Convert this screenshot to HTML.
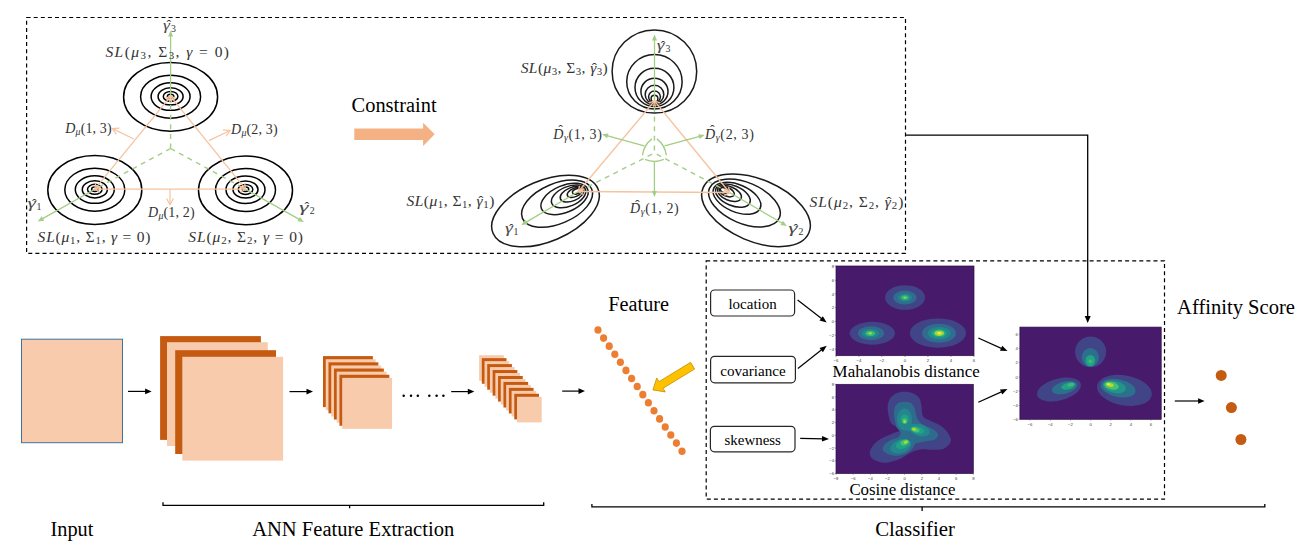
<!DOCTYPE html><html><head><meta charset="utf-8"><style>html,body{margin:0;padding:0;background:#fff;overflow:hidden;}svg{display:block;}</style></head><body><svg width="1312" height="547" viewBox="0 0 1312 547">
<rect width="1312" height="547" fill="#fff"/>
<rect x="26.6" y="17.5" width="878.9" height="235.9" fill="none" stroke="#000" stroke-width="1.2" stroke-dasharray="4 3.1"/>
<ellipse cx="170.60" cy="96.90" rx="47" ry="34.4" fill="none" stroke="#000" stroke-width="1.5"/>
<ellipse cx="170.60" cy="96.68" rx="30" ry="21.5" fill="none" stroke="#000" stroke-width="1.5"/>
<ellipse cx="170.60" cy="96.55" rx="19.5" ry="13.8" fill="none" stroke="#000" stroke-width="1.5"/>
<ellipse cx="170.60" cy="96.46" rx="12.5" ry="8.6" fill="none" stroke="#000" stroke-width="1.5"/>
<ellipse cx="170.60" cy="96.39" rx="7.3" ry="5.0" fill="none" stroke="#000" stroke-width="1.5"/>
<ellipse cx="170.60" cy="96.34" rx="3.2" ry="2.2" fill="none" stroke="#000" stroke-width="1.5"/>
<ellipse cx="94.80" cy="190.00" rx="47" ry="34.4" fill="none" stroke="#000" stroke-width="1.5"/>
<ellipse cx="94.80" cy="189.71" rx="30" ry="21.5" fill="none" stroke="#000" stroke-width="1.5"/>
<ellipse cx="94.80" cy="189.53" rx="19.5" ry="13.8" fill="none" stroke="#000" stroke-width="1.5"/>
<ellipse cx="94.80" cy="189.41" rx="12.5" ry="8.6" fill="none" stroke="#000" stroke-width="1.5"/>
<ellipse cx="94.80" cy="189.32" rx="7.3" ry="5.0" fill="none" stroke="#000" stroke-width="1.5"/>
<ellipse cx="94.80" cy="189.25" rx="3.2" ry="2.2" fill="none" stroke="#000" stroke-width="1.5"/>
<ellipse cx="245.50" cy="190.40" rx="47" ry="34.4" fill="none" stroke="#000" stroke-width="1.5"/>
<ellipse cx="245.50" cy="189.97" rx="30" ry="21.5" fill="none" stroke="#000" stroke-width="1.5"/>
<ellipse cx="245.50" cy="189.70" rx="19.5" ry="13.8" fill="none" stroke="#000" stroke-width="1.5"/>
<ellipse cx="245.50" cy="189.52" rx="12.5" ry="8.6" fill="none" stroke="#000" stroke-width="1.5"/>
<ellipse cx="245.50" cy="189.39" rx="7.3" ry="5.0" fill="none" stroke="#000" stroke-width="1.5"/>
<ellipse cx="245.50" cy="189.28" rx="3.2" ry="2.2" fill="none" stroke="#000" stroke-width="1.5"/>
<line x1="170.60" y1="148.50" x2="170.60" y2="96.30" stroke="#A2CE85" stroke-width="1.4" stroke-dasharray="5 4.6" />
<line x1="170.60" y1="148.50" x2="94.80" y2="189.20" stroke="#A2CE85" stroke-width="1.4" stroke-dasharray="5 4.6" />
<line x1="170.60" y1="148.50" x2="245.50" y2="189.20" stroke="#A2CE85" stroke-width="1.4" stroke-dasharray="5 4.6" />
<line x1="170.60" y1="96.30" x2="170.60" y2="34.70" stroke="#A2CE85" stroke-width="1.3" />
<polygon points="173.10,36.50 170.60,30.50 168.10,36.50" fill="#A2CE85"/>
<line x1="94.80" y1="189.20" x2="41.36" y2="219.34" stroke="#A2CE85" stroke-width="1.3" />
<polygon points="41.70,216.28 37.70,221.40 44.15,220.63" fill="#A2CE85"/>
<line x1="245.50" y1="189.20" x2="300.24" y2="219.94" stroke="#A2CE85" stroke-width="1.3" />
<polygon points="297.44,221.24 303.90,222.00 299.89,216.88" fill="#A2CE85"/>
<line x1="94.80" y1="189.20" x2="170.60" y2="96.30" stroke="#F5C3A0" stroke-width="1.3" />
<polyline points="169.76,102.07 170.60,96.30 165.11,98.28" fill="none" stroke="#F5C3A0" stroke-width="1.3" stroke-linejoin="miter"/>
<polyline points="95.64,183.43 94.80,189.20 100.29,187.22" fill="none" stroke="#F5C3A0" stroke-width="1.3" stroke-linejoin="miter"/>
<line x1="245.50" y1="189.20" x2="170.60" y2="96.30" stroke="#F5C3A0" stroke-width="1.3" />
<polyline points="176.07,98.31 170.60,96.30 171.40,102.08" fill="none" stroke="#F5C3A0" stroke-width="1.3" stroke-linejoin="miter"/>
<polyline points="240.03,187.19 245.50,189.20 244.70,183.42" fill="none" stroke="#F5C3A0" stroke-width="1.3" stroke-linejoin="miter"/>
<line x1="94.80" y1="189.20" x2="245.50" y2="189.20" stroke="#F5C3A0" stroke-width="1.3" />
<polyline points="240.50,192.20 245.50,189.20 240.50,186.20" fill="none" stroke="#F5C3A0" stroke-width="1.3" stroke-linejoin="miter"/>
<polyline points="99.80,186.20 94.80,189.20 99.80,192.20" fill="none" stroke="#F5C3A0" stroke-width="1.3" stroke-linejoin="miter"/>
<line x1="133.80" y1="139.00" x2="112.50" y2="128.60" stroke="#F5C3A0" stroke-width="1.2" />
<polyline points="119.43,128.09 112.50,128.60 116.36,134.38" fill="none" stroke="#F5C3A0" stroke-width="1.2" stroke-linejoin="miter"/>
<line x1="209.00" y1="140.60" x2="230.00" y2="130.50" stroke="#F5C3A0" stroke-width="1.2" />
<polyline points="226.11,136.25 230.00,130.50 223.08,129.95" fill="none" stroke="#F5C3A0" stroke-width="1.2" stroke-linejoin="miter"/>
<line x1="170.00" y1="189.20" x2="170.00" y2="204.50" stroke="#F5C3A0" stroke-width="1.2" />
<polyline points="166.50,198.50 170.00,204.50 173.50,198.50" fill="none" stroke="#F5C3A0" stroke-width="1.2" stroke-linejoin="miter"/>
<text x="163.05" y="29.80" font-family="Liberation Serif" font-size="14" font-style="italic" fill="#4a4a4a" textLength="6.98" lengthAdjust="spacingAndGlyphs">γ</text>
<text x="168.80" y="30.30" font-family="Liberation Serif" font-size="14" fill="#333" text-anchor="middle">ˆ</text>
<text x="171.08" y="31.80" font-family="Liberation Serif" font-size="9.80" fill="#333">3</text>
<text id="SL3L" x="105.40" y="57.00" font-family="Liberation Serif" font-size="15.5" fill="#333" letter-spacing="1.462"><tspan font-size="15.50" font-style="italic">SL</tspan><tspan font-size="15.50" font-style="normal">(</tspan><tspan font-size="15.50" font-style="italic">μ</tspan><tspan dy="2.00" font-size="10.85" font-style="normal">3</tspan><tspan dy="-2.00" font-size="15.50" font-style="normal">, Σ</tspan><tspan dy="2.00" font-size="10.85" font-style="normal">3</tspan><tspan dy="-2.00" font-size="15.50" font-style="normal">, </tspan><tspan font-size="15.50" font-style="italic">γ</tspan><tspan font-size="15.50" font-style="normal"> = 0)</tspan></text>
<text id="D13" x="65.30" y="133.40" font-family="Liberation Serif" font-size="14" fill="#333" letter-spacing="0.143"><tspan font-size="14.00" font-style="italic">D</tspan><tspan dy="2.00" font-size="9.80" font-style="italic">μ</tspan><tspan dy="-2.00" font-size="14.00" font-style="normal">(1, 3)</tspan></text>
<text id="D23" x="231.10" y="133.80" font-family="Liberation Serif" font-size="14" fill="#333" letter-spacing="0.171"><tspan font-size="14.00" font-style="italic">D</tspan><tspan dy="2.00" font-size="9.80" font-style="italic">μ</tspan><tspan dy="-2.00" font-size="14.00" font-style="normal">(2, 3)</tspan></text>
<text x="27.55" y="208.30" font-family="Liberation Serif" font-size="14" font-style="italic" fill="#4a4a4a" textLength="8.27" lengthAdjust="spacingAndGlyphs">γ</text>
<text x="34.31" y="208.80" font-family="Liberation Serif" font-size="14" fill="#333" text-anchor="middle">ˆ</text>
<text x="36.49" y="210.30" font-family="Liberation Serif" font-size="9.80" fill="#333">1</text>
<text id="D12" x="148.10" y="216.70" font-family="Liberation Serif" font-size="14" fill="#333" letter-spacing="0.171"><tspan font-size="14.00" font-style="italic">D</tspan><tspan dy="2.00" font-size="9.80" font-style="italic">μ</tspan><tspan dy="-2.00" font-size="14.00" font-style="normal">(1, 2)</tspan></text>
<text x="299.05" y="211.60" font-family="Liberation Serif" font-size="14" font-style="italic" fill="#4a4a4a" textLength="9.57" lengthAdjust="spacingAndGlyphs">γ</text>
<text x="306.84" y="212.10" font-family="Liberation Serif" font-size="14" fill="#333" text-anchor="middle">ˆ</text>
<text x="309.74" y="213.60" font-family="Liberation Serif" font-size="9.80" fill="#333">2</text>
<text id="SL1L" x="37.60" y="242.30" font-family="Liberation Serif" font-size="15.5" fill="#333" letter-spacing="0.788"><tspan font-size="15.50" font-style="italic">SL</tspan><tspan font-size="15.50" font-style="normal">(</tspan><tspan font-size="15.50" font-style="italic">μ</tspan><tspan dy="2.00" font-size="10.85" font-style="normal">1</tspan><tspan dy="-2.00" font-size="15.50" font-style="normal">, Σ</tspan><tspan dy="2.00" font-size="10.85" font-style="normal">1</tspan><tspan dy="-2.00" font-size="15.50" font-style="normal">, </tspan><tspan font-size="15.50" font-style="italic">γ</tspan><tspan font-size="15.50" font-style="normal"> = 0)</tspan></text>
<text id="SL2L" x="188.30" y="242.30" font-family="Liberation Serif" font-size="15.5" fill="#333" letter-spacing="0.900"><tspan font-size="15.50" font-style="italic">SL</tspan><tspan font-size="15.50" font-style="normal">(</tspan><tspan font-size="15.50" font-style="italic">μ</tspan><tspan dy="2.00" font-size="10.85" font-style="normal">2</tspan><tspan dy="-2.00" font-size="15.50" font-style="normal">, Σ</tspan><tspan dy="2.00" font-size="10.85" font-style="normal">2</tspan><tspan dy="-2.00" font-size="15.50" font-style="normal">, </tspan><tspan font-size="15.50" font-style="italic">γ</tspan><tspan font-size="15.50" font-style="normal"> = 0)</tspan></text>
<text x="351.60" y="111.70" font-family="Liberation Serif" font-size="20.5" text-anchor="start" fill="#000" textLength="85.00" lengthAdjust="spacingAndGlyphs" >Constraint</text>
<polygon points="354.3,128.4 423.1,128.4 423.1,122.7 434.7,134.2 423.1,145.9 423.1,139.9 354.3,139.9" fill="#F4B183"/>
<ellipse cx="654.40" cy="71.50" rx="42.30" ry="41.60" transform="rotate(0 654.40 71.50)" fill="none" stroke="#1a1a1a" stroke-width="1.5"/>
<ellipse cx="654.43" cy="81.68" rx="27.71" ry="27.25" transform="rotate(0 654.43 81.68)" fill="none" stroke="#1a1a1a" stroke-width="1.5"/>
<ellipse cx="654.45" cy="87.43" rx="19.46" ry="19.14" transform="rotate(0 654.45 87.43)" fill="none" stroke="#1a1a1a" stroke-width="1.5"/>
<ellipse cx="654.47" cy="91.56" rx="13.54" ry="13.31" transform="rotate(0 654.47 91.56)" fill="none" stroke="#1a1a1a" stroke-width="1.5"/>
<ellipse cx="654.48" cy="94.51" rx="9.31" ry="9.15" transform="rotate(0 654.48 94.51)" fill="none" stroke="#1a1a1a" stroke-width="1.5"/>
<ellipse cx="654.49" cy="96.87" rx="5.92" ry="5.82" transform="rotate(0 654.49 96.87)" fill="none" stroke="#1a1a1a" stroke-width="1.5"/>
<ellipse cx="654.49" cy="98.64" rx="3.38" ry="3.33" transform="rotate(0 654.49 98.64)" fill="none" stroke="#1a1a1a" stroke-width="1.5"/>
<ellipse cx="545.50" cy="211.00" rx="57.00" ry="30.40" transform="rotate(-23 545.50 211.00)" fill="none" stroke="#1a1a1a" stroke-width="1.5"/>
<ellipse cx="557.06" cy="203.69" rx="37.62" ry="20.06" transform="rotate(-23 557.06 203.69)" fill="none" stroke="#1a1a1a" stroke-width="1.5"/>
<ellipse cx="564.54" cy="198.96" rx="25.08" ry="13.38" transform="rotate(-23 564.54 198.96)" fill="none" stroke="#1a1a1a" stroke-width="1.5"/>
<ellipse cx="568.62" cy="196.38" rx="18.24" ry="9.73" transform="rotate(-23 568.62 196.38)" fill="none" stroke="#1a1a1a" stroke-width="1.5"/>
<ellipse cx="572.02" cy="194.23" rx="12.54" ry="6.69" transform="rotate(-23 572.02 194.23)" fill="none" stroke="#1a1a1a" stroke-width="1.5"/>
<ellipse cx="574.74" cy="192.51" rx="7.98" ry="4.26" transform="rotate(-23 574.74 192.51)" fill="none" stroke="#1a1a1a" stroke-width="1.5"/>
<ellipse cx="576.78" cy="191.22" rx="4.56" ry="2.43" transform="rotate(-23 576.78 191.22)" fill="none" stroke="#1a1a1a" stroke-width="1.5"/>
<ellipse cx="756.00" cy="210.30" rx="57.50" ry="31.00" transform="rotate(23 756.00 210.30)" fill="none" stroke="#1a1a1a" stroke-width="1.5"/>
<ellipse cx="744.44" cy="202.99" rx="37.95" ry="20.46" transform="rotate(23 744.44 202.99)" fill="none" stroke="#1a1a1a" stroke-width="1.5"/>
<ellipse cx="736.96" cy="198.26" rx="25.30" ry="13.64" transform="rotate(23 736.96 198.26)" fill="none" stroke="#1a1a1a" stroke-width="1.5"/>
<ellipse cx="732.88" cy="195.68" rx="18.40" ry="9.92" transform="rotate(23 732.88 195.68)" fill="none" stroke="#1a1a1a" stroke-width="1.5"/>
<ellipse cx="729.48" cy="193.53" rx="12.65" ry="6.82" transform="rotate(23 729.48 193.53)" fill="none" stroke="#1a1a1a" stroke-width="1.5"/>
<ellipse cx="726.76" cy="191.81" rx="8.05" ry="4.34" transform="rotate(23 726.76 191.81)" fill="none" stroke="#1a1a1a" stroke-width="1.5"/>
<ellipse cx="724.72" cy="190.52" rx="4.60" ry="2.48" transform="rotate(23 724.72 190.52)" fill="none" stroke="#1a1a1a" stroke-width="1.5"/>
<line x1="654.40" y1="153.00" x2="654.50" y2="101.00" stroke="#A2CE85" stroke-width="1.4" stroke-dasharray="5 4.6" stroke-dashoffset="7"/>
<line x1="654.40" y1="153.00" x2="578.50" y2="191.50" stroke="#A2CE85" stroke-width="1.4" stroke-dasharray="5 4.6" stroke-dashoffset="7"/>
<line x1="654.40" y1="153.00" x2="729.50" y2="192.50" stroke="#A2CE85" stroke-width="1.4" stroke-dasharray="5 4.6" stroke-dashoffset="7"/>
<line x1="654.50" y1="101.00" x2="654.50" y2="38.70" stroke="#A2CE85" stroke-width="1.3" />
<polygon points="657.00,40.50 654.50,34.50 652.00,40.50" fill="#A2CE85"/>
<line x1="578.50" y1="191.50" x2="524.92" y2="222.88" stroke="#A2CE85" stroke-width="1.3" />
<polygon points="525.21,219.81 521.30,225.00 527.74,224.13" fill="#A2CE85"/>
<line x1="729.50" y1="192.50" x2="783.27" y2="223.79" stroke="#A2CE85" stroke-width="1.3" />
<polygon points="780.46,225.04 786.90,225.90 782.97,220.72" fill="#A2CE85"/>
<line x1="578.50" y1="191.50" x2="654.50" y2="101.00" stroke="#F5C3A0" stroke-width="1.3" />
<polyline points="653.58,106.76 654.50,101.00 648.99,102.90" fill="none" stroke="#F5C3A0" stroke-width="1.3" stroke-linejoin="miter"/>
<polyline points="579.42,185.74 578.50,191.50 584.01,189.60" fill="none" stroke="#F5C3A0" stroke-width="1.3" stroke-linejoin="miter"/>
<line x1="729.50" y1="192.50" x2="654.50" y2="101.00" stroke="#F5C3A0" stroke-width="1.3" />
<polyline points="659.99,102.97 654.50,101.00 655.35,106.77" fill="none" stroke="#F5C3A0" stroke-width="1.3" stroke-linejoin="miter"/>
<polyline points="724.01,190.53 729.50,192.50 728.65,186.73" fill="none" stroke="#F5C3A0" stroke-width="1.3" stroke-linejoin="miter"/>
<line x1="578.50" y1="191.50" x2="729.50" y2="192.50" stroke="#F5C3A0" stroke-width="1.3" />
<polyline points="724.48,195.47 729.50,192.50 724.52,189.47" fill="none" stroke="#F5C3A0" stroke-width="1.3" stroke-linejoin="miter"/>
<polyline points="583.52,188.53 578.50,191.50 583.48,194.53" fill="none" stroke="#F5C3A0" stroke-width="1.3" stroke-linejoin="miter"/>
<path d="M651.95,138.86 A24.2,24.2 0 0 0 642.48,155.25" fill="none" stroke="#A2CE85" stroke-width="1.4"/>
<path d="M666.32,155.25 A24.2,24.2 0 0 0 656.85,138.86" fill="none" stroke="#A2CE85" stroke-width="1.4"/>
<path d="M644.96,159.48 A24.2,24.2 0 0 0 663.84,159.48" fill="none" stroke="#A2CE85" stroke-width="1.4"/>
<line x1="644.20" y1="145.80" x2="606.05" y2="135.40" stroke="#A2CE85" stroke-width="1.3" />
<polygon points="608.45,133.47 602.00,134.30 607.13,138.29" fill="#A2CE85"/>
<line x1="664.60" y1="145.80" x2="700.64" y2="136.09" stroke="#A2CE85" stroke-width="1.3" />
<polygon points="699.56,138.97 704.70,135.00 698.26,134.15" fill="#A2CE85"/>
<line x1="654.40" y1="162.20" x2="654.40" y2="192.80" stroke="#A2CE85" stroke-width="1.3" />
<polygon points="651.90,191.00 654.40,197.00 656.90,191.00" fill="#A2CE85"/>
<text id="SL3R" x="520.70" y="72.50" font-family="Liberation Serif" font-size="15.5" fill="#333" letter-spacing="0.429"><tspan font-size="15.50" font-style="italic">SL</tspan><tspan font-size="15.50" font-style="normal">(</tspan><tspan font-size="15.50" font-style="italic">μ</tspan><tspan dy="2.00" font-size="10.85" font-style="normal">3</tspan><tspan dy="-2.00" font-size="15.50" font-style="normal">, Σ</tspan><tspan dy="2.00" font-size="10.85" font-style="normal">3</tspan><tspan dy="-2.00" font-size="15.50" font-style="normal">, </tspan><tspan font-size="15.50" font-style="italic">γ</tspan><tspan dx="-4.94" dy="-0.00" font-size="15.50" font-style="normal">ˆ</tspan><tspan dy="2.00" dx="-0.65" font-size="10.85" font-style="normal">3</tspan><tspan dy="-2.00" font-size="15.50" font-style="normal">)</tspan></text>
<text x="656.85" y="50.10" font-family="Liberation Serif" font-size="14" font-style="italic" fill="#4a4a4a" textLength="7.58" lengthAdjust="spacingAndGlyphs">γ</text>
<text x="663.07" y="50.60" font-family="Liberation Serif" font-size="14" fill="#333" text-anchor="middle">ˆ</text>
<text x="665.48" y="52.10" font-family="Liberation Serif" font-size="9.80" fill="#333">3</text>
<text id="Dh13" x="553.30" y="138.70" font-family="Liberation Serif" font-size="14" fill="#333" letter-spacing="0.600"><tspan font-size="14.00" font-style="italic">D</tspan><tspan dx="-5.77" dy="-3.36" font-size="14.00" font-style="normal">ˆ</tspan><tspan dy="5.36" dx="0.50" font-size="9.80" font-style="italic">γ</tspan><tspan dy="-2.00" font-size="14.00" font-style="normal">(1, 3)</tspan></text>
<text id="Dh23" x="705.10" y="138.70" font-family="Liberation Serif" font-size="14" fill="#333" letter-spacing="0.650"><tspan font-size="14.00" font-style="italic">D</tspan><tspan dx="-5.82" dy="-3.36" font-size="14.00" font-style="normal">ˆ</tspan><tspan dy="5.36" dx="0.50" font-size="9.80" font-style="italic">γ</tspan><tspan dy="-2.00" font-size="14.00" font-style="normal">(2, 3)</tspan></text>
<text id="Dh12" x="630.00" y="213.10" font-family="Liberation Serif" font-size="14" fill="#333" letter-spacing="0.625"><tspan font-size="14.00" font-style="italic">D</tspan><tspan dx="-5.79" dy="-3.36" font-size="14.00" font-style="normal">ˆ</tspan><tspan dy="5.36" dx="0.50" font-size="9.80" font-style="italic">γ</tspan><tspan dy="-2.00" font-size="14.00" font-style="normal">(1, 2)</tspan></text>
<text id="SL1R" x="406.40" y="206.40" font-family="Liberation Serif" font-size="15.5" fill="#333" letter-spacing="0.500"><tspan font-size="15.50" font-style="italic">SL</tspan><tspan font-size="15.50" font-style="normal">(</tspan><tspan font-size="15.50" font-style="italic">μ</tspan><tspan dy="2.00" font-size="10.85" font-style="normal">1</tspan><tspan dy="-2.00" font-size="15.50" font-style="normal">, Σ</tspan><tspan dy="2.00" font-size="10.85" font-style="normal">1</tspan><tspan dy="-2.00" font-size="15.50" font-style="normal">, </tspan><tspan font-size="15.50" font-style="italic">γ</tspan><tspan dx="-5.01" dy="-0.00" font-size="15.50" font-style="normal">ˆ</tspan><tspan dy="2.00" dx="-0.65" font-size="10.85" font-style="normal">1</tspan><tspan dy="-2.00" font-size="15.50" font-style="normal">)</tspan></text>
<text x="505.05" y="233.20" font-family="Liberation Serif" font-size="14" font-style="italic" fill="#4a4a4a" textLength="7.77" lengthAdjust="spacingAndGlyphs">γ</text>
<text x="511.42" y="233.70" font-family="Liberation Serif" font-size="14" fill="#333" text-anchor="middle">ˆ</text>
<text x="513.49" y="235.20" font-family="Liberation Serif" font-size="9.80" fill="#333">1</text>
<text id="SL2R" x="809.60" y="206.80" font-family="Liberation Serif" font-size="15.5" fill="#333" letter-spacing="0.943"><tspan font-size="15.50" font-style="italic">SL</tspan><tspan font-size="15.50" font-style="normal">(</tspan><tspan font-size="15.50" font-style="italic">μ</tspan><tspan dy="2.00" font-size="10.85" font-style="normal">2</tspan><tspan dy="-2.00" font-size="15.50" font-style="normal">, Σ</tspan><tspan dy="2.00" font-size="10.85" font-style="normal">2</tspan><tspan dy="-2.00" font-size="15.50" font-style="normal">, </tspan><tspan font-size="15.50" font-style="italic">γ</tspan><tspan dx="-5.45" dy="-0.00" font-size="15.50" font-style="normal">ˆ</tspan><tspan dy="2.00" dx="-0.65" font-size="10.85" font-style="normal">2</tspan><tspan dy="-2.00" font-size="15.50" font-style="normal">)</tspan></text>
<text x="788.25" y="233.40" font-family="Liberation Serif" font-size="14" font-style="italic" fill="#4a4a4a" textLength="9.18" lengthAdjust="spacingAndGlyphs">γ</text>
<text x="795.73" y="233.90" font-family="Liberation Serif" font-size="14" fill="#333" text-anchor="middle">ˆ</text>
<text x="798.54" y="235.40" font-family="Liberation Serif" font-size="9.80" fill="#333">2</text>
<polyline points="905.5,135.2 1087.7,135.2 1087.7,316" fill="none" stroke="#000" stroke-width="1.3"/>
<polygon points="1084.70,316.00 1087.70,323.00 1090.70,316.00" fill="#000"/>
<rect x="21.5" y="339.2" width="101" height="103.5" fill="#F8CBAD" stroke="#41719C" stroke-width="1"/>
<line x1="128.00" y1="391.40" x2="147.60" y2="391.40" stroke="#000" stroke-width="1.2" />
<polygon points="145.10,388.60 151.60,391.40 145.10,394.20" fill="#000"/>
<rect x="160.1" y="336.1" width="100.8" height="103.8" fill="#C55A11"/>
<rect x="167.0" y="342.2" width="100.8" height="103.8" fill="#F8CBAD"/>
<rect x="175.2" y="350.2" width="100.8" height="103.8" fill="#C55A11"/>
<rect x="182.3" y="356.8" width="100.8" height="103.8" fill="#F8CBAD"/>
<line x1="289.50" y1="391.60" x2="309.00" y2="391.60" stroke="#000" stroke-width="1.2" />
<polygon points="306.50,388.80 313.00,391.60 306.50,394.40" fill="#000"/>
<rect x="323.00" y="356.10" width="49.9" height="51.0" fill="#C55A11"/>
<rect x="325.74" y="359.21" width="49.9" height="51.0" fill="#F8CBAD"/>
<rect x="328.48" y="362.32" width="49.9" height="51.0" fill="#C55A11"/>
<rect x="331.22" y="365.43" width="49.9" height="51.0" fill="#F8CBAD"/>
<rect x="333.96" y="368.54" width="49.9" height="51.0" fill="#C55A11"/>
<rect x="336.70" y="371.65" width="49.9" height="51.0" fill="#F8CBAD"/>
<rect x="339.44" y="374.76" width="49.9" height="51.0" fill="#C55A11"/>
<rect x="342.18" y="377.87" width="49.9" height="51.0" fill="#F8CBAD"/>
<circle cx="403.7" cy="395.8" r="1.25" fill="#000"/>
<circle cx="411.0" cy="395.8" r="1.25" fill="#000"/>
<circle cx="417.8" cy="395.8" r="1.25" fill="#000"/>
<circle cx="429.3" cy="395.8" r="1.25" fill="#000"/>
<circle cx="436.6" cy="395.8" r="1.25" fill="#000"/>
<circle cx="443.4" cy="395.8" r="1.25" fill="#000"/>
<line x1="451.20" y1="391.60" x2="470.30" y2="391.60" stroke="#000" stroke-width="1.2" />
<polygon points="467.80,388.80 474.30,391.60 467.80,394.40" fill="#000"/>
<rect x="479.10" y="355.20" width="24.7" height="25.6" fill="#F8CBAD"/>
<rect x="481.81" y="358.17" width="24.7" height="25.6" fill="#C55A11"/>
<rect x="484.51" y="361.14" width="24.7" height="25.6" fill="#F8CBAD"/>
<rect x="487.22" y="364.11" width="24.7" height="25.6" fill="#C55A11"/>
<rect x="489.93" y="367.08" width="24.7" height="25.6" fill="#F8CBAD"/>
<rect x="492.64" y="370.05" width="24.7" height="25.6" fill="#C55A11"/>
<rect x="495.34" y="373.02" width="24.7" height="25.6" fill="#F8CBAD"/>
<rect x="498.05" y="375.99" width="24.7" height="25.6" fill="#C55A11"/>
<rect x="500.76" y="378.96" width="24.7" height="25.6" fill="#F8CBAD"/>
<rect x="503.46" y="381.93" width="24.7" height="25.6" fill="#C55A11"/>
<rect x="506.17" y="384.90" width="24.7" height="25.6" fill="#F8CBAD"/>
<rect x="508.88" y="387.87" width="24.7" height="25.6" fill="#C55A11"/>
<rect x="511.58" y="390.84" width="24.7" height="25.6" fill="#F8CBAD"/>
<rect x="514.29" y="393.81" width="24.7" height="25.6" fill="#C55A11"/>
<rect x="517.00" y="396.78" width="24.7" height="25.6" fill="#F8CBAD"/>
<line x1="562.20" y1="391.10" x2="581.00" y2="391.10" stroke="#000" stroke-width="1.2" />
<polygon points="578.50,388.30 585.00,391.10 578.50,393.90" fill="#000"/>
<ellipse cx="598.00" cy="330.00" rx="3.6" ry="3.8" fill="#ED7D31"/>
<ellipse cx="603.60" cy="338.08" rx="3.6" ry="3.8" fill="#ED7D31"/>
<ellipse cx="609.20" cy="346.16" rx="3.6" ry="3.8" fill="#ED7D31"/>
<ellipse cx="614.80" cy="354.24" rx="3.6" ry="3.8" fill="#ED7D31"/>
<ellipse cx="620.40" cy="362.32" rx="3.6" ry="3.8" fill="#ED7D31"/>
<ellipse cx="626.00" cy="370.40" rx="3.6" ry="3.8" fill="#ED7D31"/>
<ellipse cx="631.60" cy="378.48" rx="3.6" ry="3.8" fill="#ED7D31"/>
<ellipse cx="637.20" cy="386.56" rx="3.6" ry="3.8" fill="#ED7D31"/>
<ellipse cx="642.80" cy="394.64" rx="3.6" ry="3.8" fill="#ED7D31"/>
<ellipse cx="648.40" cy="402.72" rx="3.6" ry="3.8" fill="#ED7D31"/>
<ellipse cx="654.00" cy="410.80" rx="3.6" ry="3.8" fill="#ED7D31"/>
<ellipse cx="659.60" cy="418.88" rx="3.6" ry="3.8" fill="#ED7D31"/>
<ellipse cx="665.20" cy="426.96" rx="3.6" ry="3.8" fill="#ED7D31"/>
<ellipse cx="670.80" cy="435.04" rx="3.6" ry="3.8" fill="#ED7D31"/>
<ellipse cx="676.40" cy="443.12" rx="3.6" ry="3.8" fill="#ED7D31"/>
<ellipse cx="682.00" cy="451.20" rx="3.6" ry="3.8" fill="#ED7D31"/>
<polygon points="690.57,362.37 658.98,381.63 656.74,377.95 652.90,389.90 665.28,391.96 663.04,388.29 694.63,369.03" fill="#FFC000" stroke="#BF9000" stroke-width="0.8" stroke-linejoin="miter"/>
<text x="608.30" y="311.30" font-family="Liberation Serif" font-size="20.5" text-anchor="start" fill="#000" textLength="60.70" lengthAdjust="spacingAndGlyphs" >Feature</text>
<rect x="706.2" y="260.9" width="458.3" height="238.2" fill="none" stroke="#000" stroke-width="1.2" stroke-dasharray="4 3.1"/>
<rect x="710.6" y="290.0" width="84.00" height="26.00" rx="4" ry="4" fill="#fff" stroke="#262626" stroke-width="1.2"/>
<text x="752.60" y="309.00" font-family="Liberation Serif" font-size="15" text-anchor="middle" fill="#000" textLength="48.30" lengthAdjust="spacingAndGlyphs" >location</text>
<rect x="710.6" y="356.3" width="84.80" height="26.50" rx="4" ry="4" fill="#fff" stroke="#262626" stroke-width="1.2"/>
<text x="753.00" y="375.55" font-family="Liberation Serif" font-size="15" text-anchor="middle" fill="#000" textLength="65.50" lengthAdjust="spacingAndGlyphs" >covariance</text>
<rect x="710.4" y="426.3" width="84.60" height="25.50" rx="4" ry="4" fill="#fff" stroke="#262626" stroke-width="1.2"/>
<text x="752.70" y="445.05" font-family="Liberation Serif" font-size="15" text-anchor="middle" fill="#000" textLength="56.40" lengthAdjust="spacingAndGlyphs" >skewness</text>
<line x1="797.60" y1="300.00" x2="822.83" y2="319.59" stroke="#000" stroke-width="1.2" />
<polygon points="819.48,320.48 826.70,322.60 822.86,316.13" fill="#000"/>
<line x1="797.90" y1="368.50" x2="822.86" y2="348.74" stroke="#000" stroke-width="1.2" />
<polygon points="822.92,352.20 826.70,345.70 819.50,347.89" fill="#000"/>
<line x1="800.20" y1="438.40" x2="824.10" y2="438.90" stroke="#000" stroke-width="1.2" />
<polygon points="821.94,441.60 829.00,439.00 822.06,436.10" fill="#000"/>
<line x1="978.30" y1="338.00" x2="1003.03" y2="349.09" stroke="#000" stroke-width="1.2" />
<polygon points="999.99,350.74 1007.50,351.10 1002.24,345.73" fill="#000"/>
<line x1="978.30" y1="402.20" x2="1003.03" y2="391.11" stroke="#000" stroke-width="1.2" />
<polygon points="1002.24,394.47 1007.50,389.10 999.99,389.46" fill="#000"/>
<text x="832.60" y="377.00" font-family="Liberation Serif" font-size="17" text-anchor="start" fill="#000" textLength="147.10" lengthAdjust="spacingAndGlyphs" >Mahalanobis distance</text>
<text x="849.40" y="494.50" font-family="Liberation Serif" font-size="17" text-anchor="start" fill="#000" textLength="106.10" lengthAdjust="spacingAndGlyphs" >Cosine distance</text>
<text x="1177.10" y="313.90" font-family="Liberation Serif" font-size="20.5" text-anchor="start" fill="#000" textLength="117.80" lengthAdjust="spacingAndGlyphs" >Affinity Score</text>
<line x1="1174.80" y1="401.00" x2="1200.60" y2="401.00" stroke="#000" stroke-width="1.2" />
<polygon points="1198.10,398.20 1204.60,401.00 1198.10,403.80" fill="#000"/>
<circle cx="1221.2" cy="375.4" r="5.5" fill="#C55A11"/>
<circle cx="1231.4" cy="407.6" r="5.5" fill="#C55A11"/>
<circle cx="1240.9" cy="439.5" r="5.5" fill="#C55A11"/>
<polyline points="163.0,502.3 163.0,505.3 543.7,505.3 543.7,502.3" fill="none" stroke="#000" stroke-width="1.3"/>
<line x1="349.60" y1="505.30" x2="349.60" y2="508.30" stroke="#000" stroke-width="1.3" />
<polyline points="591.9,504.0 591.9,506.8 1264.8,506.8 1264.8,504.0" fill="none" stroke="#000" stroke-width="1.3"/>
<line x1="922.10" y1="506.80" x2="922.10" y2="510.90" stroke="#000" stroke-width="1.3" />
<text x="50.60" y="535.80" font-family="Liberation Serif" font-size="20.5" text-anchor="start" fill="#000" textLength="42.80" lengthAdjust="spacingAndGlyphs" >Input</text>
<text x="252.20" y="535.60" font-family="Liberation Serif" font-size="20.5" text-anchor="start" fill="#000" textLength="202.00" lengthAdjust="spacingAndGlyphs" >ANN Feature Extraction</text>
<text x="875.20" y="536.00" font-family="Liberation Serif" font-size="20.5" text-anchor="start" fill="#000" textLength="79.80" lengthAdjust="spacingAndGlyphs" >Classifier</text>
<clipPath id="cp1"><rect x="836.0" y="266.0" width="138.00" height="89.70"/></clipPath>
<rect x="836.0" y="266.0" width="138.00" height="89.70" fill="#481a6c" stroke="#2e0f42" stroke-width="0.7"/>
<g clip-path="url(#cp1)">
<ellipse cx="905.05" cy="297.50" rx="19.95" ry="12.35" fill="#414487"/>
<ellipse cx="904.85" cy="297.60" rx="11.70" ry="7.00" fill="#2F6C8E"/>
<ellipse cx="904.85" cy="297.60" rx="7.00" ry="4.10" fill="#23888E"/>
<ellipse cx="904.90" cy="297.60" rx="3.80" ry="2.30" fill="#35B779"/>
<ellipse cx="905.00" cy="297.60" rx="1.50" ry="0.90" fill="#A0DA39"/>
<ellipse cx="872.30" cy="333.25" rx="22.70" ry="11.40" fill="#414487"/>
<ellipse cx="871.00" cy="333.25" rx="13.10" ry="6.90" fill="#2F6C8E"/>
<ellipse cx="870.40" cy="333.30" rx="8.70" ry="4.40" fill="#23888E"/>
<ellipse cx="870.30" cy="333.30" rx="4.75" ry="2.60" fill="#3BBB75"/>
<ellipse cx="870.20" cy="333.30" rx="2.00" ry="1.10" fill="#A8DB34"/>
<ellipse cx="937.90" cy="333.10" rx="28.10" ry="14.60" fill="#414487"/>
<ellipse cx="939.00" cy="333.20" rx="17.00" ry="9.50" fill="#2F6C8E"/>
<ellipse cx="939.30" cy="333.30" rx="11.40" ry="6.30" fill="#23888E"/>
<ellipse cx="939.00" cy="333.30" rx="7.40" ry="4.00" fill="#22A785"/>
<ellipse cx="939.25" cy="333.30" rx="4.80" ry="2.70" fill="#8FD744"/>
<ellipse cx="939.30" cy="333.30" rx="2.30" ry="1.30" fill="#FDE725"/>
</g>
<text x="834.00" y="267.50" font-family="Liberation Sans" font-size="4.2" fill="#3a3a3a" text-anchor="end">8</text>
<line x1="834.70" y1="266.00" x2="836.00" y2="266.00" stroke="#444" stroke-width="0.5" />
<text x="834.00" y="281.80" font-family="Liberation Sans" font-size="4.2" fill="#3a3a3a" text-anchor="end">6</text>
<line x1="834.70" y1="280.30" x2="836.00" y2="280.30" stroke="#444" stroke-width="0.5" />
<text x="834.00" y="295.50" font-family="Liberation Sans" font-size="4.2" fill="#3a3a3a" text-anchor="end">4</text>
<line x1="834.70" y1="294.00" x2="836.00" y2="294.00" stroke="#444" stroke-width="0.5" />
<text x="834.00" y="309.20" font-family="Liberation Sans" font-size="4.2" fill="#3a3a3a" text-anchor="end">2</text>
<line x1="834.70" y1="307.70" x2="836.00" y2="307.70" stroke="#444" stroke-width="0.5" />
<text x="834.00" y="322.90" font-family="Liberation Sans" font-size="4.2" fill="#3a3a3a" text-anchor="end">0</text>
<line x1="834.70" y1="321.40" x2="836.00" y2="321.40" stroke="#444" stroke-width="0.5" />
<text x="834.00" y="336.70" font-family="Liberation Sans" font-size="4.2" fill="#3a3a3a" text-anchor="end">&#8722;2</text>
<line x1="834.70" y1="335.20" x2="836.00" y2="335.20" stroke="#444" stroke-width="0.5" />
<text x="834.00" y="350.70" font-family="Liberation Sans" font-size="4.2" fill="#3a3a3a" text-anchor="end">&#8722;4</text>
<line x1="834.70" y1="349.20" x2="836.00" y2="349.20" stroke="#444" stroke-width="0.5" />
<text x="836.00" y="361.90" font-family="Liberation Sans" font-size="4.2" fill="#3a3a3a" text-anchor="middle">&#8722;6</text>
<line x1="836.00" y1="355.70" x2="836.00" y2="357.00" stroke="#444" stroke-width="0.5" />
<text x="859.00" y="361.90" font-family="Liberation Sans" font-size="4.2" fill="#3a3a3a" text-anchor="middle">&#8722;4</text>
<line x1="859.00" y1="355.70" x2="859.00" y2="357.00" stroke="#444" stroke-width="0.5" />
<text x="881.80" y="361.90" font-family="Liberation Sans" font-size="4.2" fill="#3a3a3a" text-anchor="middle">&#8722;2</text>
<line x1="881.80" y1="355.70" x2="881.80" y2="357.00" stroke="#444" stroke-width="0.5" />
<text x="905.00" y="361.90" font-family="Liberation Sans" font-size="4.2" fill="#3a3a3a" text-anchor="middle">0</text>
<line x1="905.00" y1="355.70" x2="905.00" y2="357.00" stroke="#444" stroke-width="0.5" />
<text x="927.90" y="361.90" font-family="Liberation Sans" font-size="4.2" fill="#3a3a3a" text-anchor="middle">2</text>
<line x1="927.90" y1="355.70" x2="927.90" y2="357.00" stroke="#444" stroke-width="0.5" />
<text x="950.90" y="361.90" font-family="Liberation Sans" font-size="4.2" fill="#3a3a3a" text-anchor="middle">4</text>
<line x1="950.90" y1="355.70" x2="950.90" y2="357.00" stroke="#444" stroke-width="0.5" />
<text x="974.00" y="361.90" font-family="Liberation Sans" font-size="4.2" fill="#3a3a3a" text-anchor="middle">6</text>
<line x1="974.00" y1="355.70" x2="974.00" y2="357.00" stroke="#444" stroke-width="0.5" />
<clipPath id="cp3"><rect x="1019.9" y="327.1" width="141.30" height="92.20"/></clipPath>
<rect x="1019.9" y="327.1" width="141.30" height="92.20" fill="#481a6c" stroke="#2e0f42" stroke-width="0.7"/>
<g clip-path="url(#cp3)">
<ellipse cx="1090.60" cy="351.80" rx="15.55" ry="15.40" fill="#414487"/>
<ellipse cx="1090.30" cy="357.40" rx="8.50" ry="9.40" fill="#2D708E"/>
<ellipse cx="1090.30" cy="360.60" rx="4.80" ry="5.70" fill="#22A384"/>
<ellipse cx="1090.40" cy="361.40" rx="2.00" ry="1.80" fill="#3DBC74"/>
<ellipse cx="1059.00" cy="389.50" rx="22.60" ry="10.90" fill="#414487" transform="rotate(-14.5 1059.00 389.50)"/>
<ellipse cx="1064.60" cy="387.60" rx="13.00" ry="6.00" fill="#2D708E" transform="rotate(-14.5 1064.60 387.60)"/>
<ellipse cx="1068.30" cy="386.00" rx="7.20" ry="3.30" fill="#22A384" transform="rotate(-14.5 1068.30 386.00)"/>
<ellipse cx="1070.80" cy="384.60" rx="3.40" ry="1.60" fill="#3DBC74" transform="rotate(-14.5 1070.80 384.60)"/>
<ellipse cx="1124.40" cy="390.40" rx="27.80" ry="15.00" fill="#414487" transform="rotate(10.3 1124.40 390.40)"/>
<ellipse cx="1118.10" cy="388.10" rx="17.70" ry="8.80" fill="#2D708E" transform="rotate(12 1118.10 388.10)"/>
<ellipse cx="1114.40" cy="386.80" rx="11.60" ry="6.00" fill="#22958B" transform="rotate(12 1114.40 386.80)"/>
<ellipse cx="1111.60" cy="385.80" rx="7.40" ry="3.80" fill="#4AC16D" transform="rotate(12 1111.60 385.80)"/>
<ellipse cx="1109.90" cy="384.90" rx="3.80" ry="1.90" fill="#A8DB34" transform="rotate(12 1109.90 384.90)"/>
<ellipse cx="1108.40" cy="384.20" rx="1.60" ry="1.00" fill="#FDE725" transform="rotate(12 1108.40 384.20)"/>
</g>
<text x="1017.90" y="335.70" font-family="Liberation Sans" font-size="4.2" fill="#3a3a3a" text-anchor="end">6</text>
<line x1="1018.60" y1="334.20" x2="1019.90" y2="334.20" stroke="#444" stroke-width="0.5" />
<text x="1017.90" y="350.00" font-family="Liberation Sans" font-size="4.2" fill="#3a3a3a" text-anchor="end">4</text>
<line x1="1018.60" y1="348.50" x2="1019.90" y2="348.50" stroke="#444" stroke-width="0.5" />
<text x="1017.90" y="364.20" font-family="Liberation Sans" font-size="4.2" fill="#3a3a3a" text-anchor="end">2</text>
<line x1="1018.60" y1="362.70" x2="1019.90" y2="362.70" stroke="#444" stroke-width="0.5" />
<text x="1017.90" y="378.50" font-family="Liberation Sans" font-size="4.2" fill="#3a3a3a" text-anchor="end">0</text>
<line x1="1018.60" y1="377.00" x2="1019.90" y2="377.00" stroke="#444" stroke-width="0.5" />
<text x="1017.90" y="392.70" font-family="Liberation Sans" font-size="4.2" fill="#3a3a3a" text-anchor="end">&#8722;2</text>
<line x1="1018.60" y1="391.20" x2="1019.90" y2="391.20" stroke="#444" stroke-width="0.5" />
<text x="1017.90" y="407.00" font-family="Liberation Sans" font-size="4.2" fill="#3a3a3a" text-anchor="end">&#8722;4</text>
<line x1="1018.60" y1="405.50" x2="1019.90" y2="405.50" stroke="#444" stroke-width="0.5" />
<text x="1017.90" y="420.80" font-family="Liberation Sans" font-size="4.2" fill="#3a3a3a" text-anchor="end">&#8722;6</text>
<line x1="1018.60" y1="419.30" x2="1019.90" y2="419.30" stroke="#444" stroke-width="0.5" />
<text x="1029.90" y="425.50" font-family="Liberation Sans" font-size="4.2" fill="#3a3a3a" text-anchor="middle">&#8722;6</text>
<line x1="1029.90" y1="419.30" x2="1029.90" y2="420.60" stroke="#444" stroke-width="0.5" />
<text x="1050.30" y="425.50" font-family="Liberation Sans" font-size="4.2" fill="#3a3a3a" text-anchor="middle">&#8722;4</text>
<line x1="1050.30" y1="419.30" x2="1050.30" y2="420.60" stroke="#444" stroke-width="0.5" />
<text x="1070.50" y="425.50" font-family="Liberation Sans" font-size="4.2" fill="#3a3a3a" text-anchor="middle">&#8722;2</text>
<line x1="1070.50" y1="419.30" x2="1070.50" y2="420.60" stroke="#444" stroke-width="0.5" />
<text x="1090.70" y="425.50" font-family="Liberation Sans" font-size="4.2" fill="#3a3a3a" text-anchor="middle">0</text>
<line x1="1090.70" y1="419.30" x2="1090.70" y2="420.60" stroke="#444" stroke-width="0.5" />
<text x="1110.60" y="425.50" font-family="Liberation Sans" font-size="4.2" fill="#3a3a3a" text-anchor="middle">2</text>
<line x1="1110.60" y1="419.30" x2="1110.60" y2="420.60" stroke="#444" stroke-width="0.5" />
<text x="1130.80" y="425.50" font-family="Liberation Sans" font-size="4.2" fill="#3a3a3a" text-anchor="middle">4</text>
<line x1="1130.80" y1="419.30" x2="1130.80" y2="420.60" stroke="#444" stroke-width="0.5" />
<text x="1151.00" y="425.50" font-family="Liberation Sans" font-size="4.2" fill="#3a3a3a" text-anchor="middle">6</text>
<line x1="1151.00" y1="419.30" x2="1151.00" y2="420.60" stroke="#444" stroke-width="0.5" />
<clipPath id="cp2"><rect x="836.0" y="384.3" width="137.30" height="89.20"/></clipPath>
<rect x="836.0" y="384.3" width="137.30" height="89.20" fill="#481a6c" stroke="#2e0f42" stroke-width="0.7"/>
<g clip-path="url(#cp2)">
<path d="M904.30,391.80 C907.13,391.83 910.97,392.38 913.50,393.50 C916.03,394.62 918.17,396.42 919.50,398.50 C920.83,400.58 921.05,403.58 921.50,406.00 C921.95,408.42 921.75,411.03 922.20,413.00 C922.65,414.97 922.57,416.38 924.20,417.80 C925.83,419.22 929.17,420.13 932.00,421.50 C934.83,422.87 938.60,424.18 941.20,426.00 C943.80,427.82 946.00,430.25 947.60,432.40 C949.20,434.55 950.50,436.92 950.80,438.90 C951.10,440.88 950.70,442.63 949.40,444.30 C948.10,445.97 945.90,447.98 943.00,448.90 C940.10,449.82 935.35,449.73 932.00,449.80 C928.65,449.87 925.95,449.07 922.90,449.30 C919.85,449.53 916.27,450.33 913.70,451.20 C911.13,452.07 910.02,453.10 907.50,454.50 C904.98,455.90 902.35,458.22 898.60,459.60 C894.85,460.98 889.25,462.87 885.00,462.80 C880.75,462.73 875.65,460.87 873.10,459.20 C870.55,457.53 869.70,455.10 869.70,452.80 C869.70,450.50 871.30,447.70 873.10,445.40 C874.90,443.10 877.45,440.90 880.50,439.00 C883.55,437.10 888.20,435.52 891.40,434.00 C894.60,432.48 899.60,431.57 899.70,429.90 C899.80,428.23 893.75,425.95 892.00,424.00 C890.25,422.05 889.93,421.15 889.20,418.20 C888.47,415.25 887.38,409.67 887.60,406.30 C887.82,402.93 889.02,400.17 890.50,398.00 C891.98,395.83 894.20,394.33 896.50,393.30 C898.80,392.27 901.47,391.77 904.30,391.80Z" fill="#414487"/>
<path d="M904.70,401.70 C906.62,401.78 909.37,401.95 911.00,403.00 C912.63,404.05 913.67,406.17 914.50,408.00 C915.33,409.83 915.50,412.17 916.00,414.00 C916.50,415.83 916.35,417.22 917.50,419.00 C918.65,420.78 920.65,423.20 922.90,424.70 C925.15,426.20 928.73,426.78 931.00,428.00 C933.27,429.22 935.33,430.80 936.50,432.00 C937.67,433.20 938.25,433.95 938.00,435.20 C937.75,436.45 936.77,438.52 935.00,439.50 C933.23,440.48 929.90,440.60 927.40,441.10 C924.90,441.60 921.97,442.08 920.00,442.50 C918.03,442.92 916.85,442.60 915.60,443.60 C914.35,444.60 913.93,446.93 912.50,448.50 C911.07,450.07 909.42,451.78 907.00,453.00 C904.58,454.22 901.00,455.55 898.00,455.80 C895.00,456.05 891.42,455.30 889.00,454.50 C886.58,453.70 884.53,452.05 883.50,451.00 C882.47,449.95 882.55,449.37 882.80,448.20 C883.05,447.03 883.63,445.37 885.00,444.00 C886.37,442.63 888.70,441.20 891.00,440.00 C893.30,438.80 897.22,438.13 898.80,436.80 C900.38,435.47 900.80,433.47 900.50,432.00 C900.20,430.53 897.88,429.67 897.00,428.00 C896.12,426.33 895.72,424.50 895.20,422.00 C894.68,419.50 893.85,415.67 893.90,413.00 C893.95,410.33 894.57,407.75 895.50,406.00 C896.43,404.25 897.97,403.22 899.50,402.50 C901.03,401.78 902.78,401.62 904.70,401.70Z" fill="#2E6C8E"/>
<ellipse cx="904.50" cy="419.50" rx="7.50" ry="11.00" fill="#24878E"/>
<ellipse cx="919.60" cy="430.10" rx="10.50" ry="6.00" fill="#24878E" transform="rotate(15 919.60 430.10)"/>
<ellipse cx="900.80" cy="446.30" rx="11.00" ry="6.60" fill="#24878E" transform="rotate(-20 900.80 446.30)"/>
<ellipse cx="909.00" cy="427.00" rx="5.00" ry="4.00" fill="#24878E"/>
<ellipse cx="904.70" cy="419.30" rx="4.10" ry="4.80" fill="#1FA287"/>
<ellipse cx="917.40" cy="430.00" rx="7.20" ry="3.60" fill="#1FA287" transform="rotate(15 917.40 430.00)"/>
<ellipse cx="903.00" cy="444.30" rx="7.50" ry="4.30" fill="#1FA287" transform="rotate(-20 903.00 444.30)"/>
<ellipse cx="904.70" cy="421.00" rx="2.40" ry="2.80" fill="#4AC16D"/>
<ellipse cx="915.50" cy="429.70" rx="4.30" ry="2.40" fill="#4AC16D" transform="rotate(15 915.50 429.70)"/>
<ellipse cx="904.70" cy="442.50" rx="4.20" ry="2.60" fill="#4AC16D" transform="rotate(-20 904.70 442.50)"/>
<ellipse cx="904.70" cy="421.70" rx="1.30" ry="1.40" fill="#A5DB36"/>
<ellipse cx="914.20" cy="429.30" rx="2.20" ry="1.40" fill="#A5DB36" transform="rotate(15 914.20 429.30)"/>
<ellipse cx="905.80" cy="442.10" rx="2.20" ry="1.40" fill="#A5DB36" transform="rotate(-20 905.80 442.10)"/>
</g>
<text x="834.00" y="385.80" font-family="Liberation Sans" font-size="4.2" fill="#3a3a3a" text-anchor="end">8</text>
<line x1="834.70" y1="384.30" x2="836.00" y2="384.30" stroke="#444" stroke-width="0.5" />
<text x="834.00" y="398.54" font-family="Liberation Sans" font-size="4.2" fill="#3a3a3a" text-anchor="end">6</text>
<line x1="834.70" y1="397.04" x2="836.00" y2="397.04" stroke="#444" stroke-width="0.5" />
<text x="834.00" y="411.28" font-family="Liberation Sans" font-size="4.2" fill="#3a3a3a" text-anchor="end">4</text>
<line x1="834.70" y1="409.78" x2="836.00" y2="409.78" stroke="#444" stroke-width="0.5" />
<text x="834.00" y="424.03" font-family="Liberation Sans" font-size="4.2" fill="#3a3a3a" text-anchor="end">2</text>
<line x1="834.70" y1="422.53" x2="836.00" y2="422.53" stroke="#444" stroke-width="0.5" />
<text x="834.00" y="436.77" font-family="Liberation Sans" font-size="4.2" fill="#3a3a3a" text-anchor="end">0</text>
<line x1="834.70" y1="435.27" x2="836.00" y2="435.27" stroke="#444" stroke-width="0.5" />
<text x="834.00" y="449.51" font-family="Liberation Sans" font-size="4.2" fill="#3a3a3a" text-anchor="end">&#8722;2</text>
<line x1="834.70" y1="448.01" x2="836.00" y2="448.01" stroke="#444" stroke-width="0.5" />
<text x="834.00" y="462.25" font-family="Liberation Sans" font-size="4.2" fill="#3a3a3a" text-anchor="end">&#8722;4</text>
<line x1="834.70" y1="460.75" x2="836.00" y2="460.75" stroke="#444" stroke-width="0.5" />
<text x="834.00" y="474.99" font-family="Liberation Sans" font-size="4.2" fill="#3a3a3a" text-anchor="end">&#8722;6</text>
<line x1="834.70" y1="473.49" x2="836.00" y2="473.49" stroke="#444" stroke-width="0.5" />
<text x="836.00" y="479.70" font-family="Liberation Sans" font-size="4.2" fill="#3a3a3a" text-anchor="middle">&#8722;8</text>
<line x1="836.00" y1="473.50" x2="836.00" y2="474.80" stroke="#444" stroke-width="0.5" />
<text x="853.20" y="479.70" font-family="Liberation Sans" font-size="4.2" fill="#3a3a3a" text-anchor="middle">&#8722;6</text>
<line x1="853.20" y1="473.50" x2="853.20" y2="474.80" stroke="#444" stroke-width="0.5" />
<text x="870.40" y="479.70" font-family="Liberation Sans" font-size="4.2" fill="#3a3a3a" text-anchor="middle">&#8722;4</text>
<line x1="870.40" y1="473.50" x2="870.40" y2="474.80" stroke="#444" stroke-width="0.5" />
<text x="887.50" y="479.70" font-family="Liberation Sans" font-size="4.2" fill="#3a3a3a" text-anchor="middle">&#8722;2</text>
<line x1="887.50" y1="473.50" x2="887.50" y2="474.80" stroke="#444" stroke-width="0.5" />
<text x="904.60" y="479.70" font-family="Liberation Sans" font-size="4.2" fill="#3a3a3a" text-anchor="middle">0</text>
<line x1="904.60" y1="473.50" x2="904.60" y2="474.80" stroke="#444" stroke-width="0.5" />
<text x="921.80" y="479.70" font-family="Liberation Sans" font-size="4.2" fill="#3a3a3a" text-anchor="middle">2</text>
<line x1="921.80" y1="473.50" x2="921.80" y2="474.80" stroke="#444" stroke-width="0.5" />
<text x="939.00" y="479.70" font-family="Liberation Sans" font-size="4.2" fill="#3a3a3a" text-anchor="middle">4</text>
<line x1="939.00" y1="473.50" x2="939.00" y2="474.80" stroke="#444" stroke-width="0.5" />
<text x="956.10" y="479.70" font-family="Liberation Sans" font-size="4.2" fill="#3a3a3a" text-anchor="middle">6</text>
<line x1="956.10" y1="473.50" x2="956.10" y2="474.80" stroke="#444" stroke-width="0.5" />
<text x="973.30" y="479.70" font-family="Liberation Sans" font-size="4.2" fill="#3a3a3a" text-anchor="middle">8</text>
<line x1="973.30" y1="473.50" x2="973.30" y2="474.80" stroke="#444" stroke-width="0.5" />
</svg></body></html>
